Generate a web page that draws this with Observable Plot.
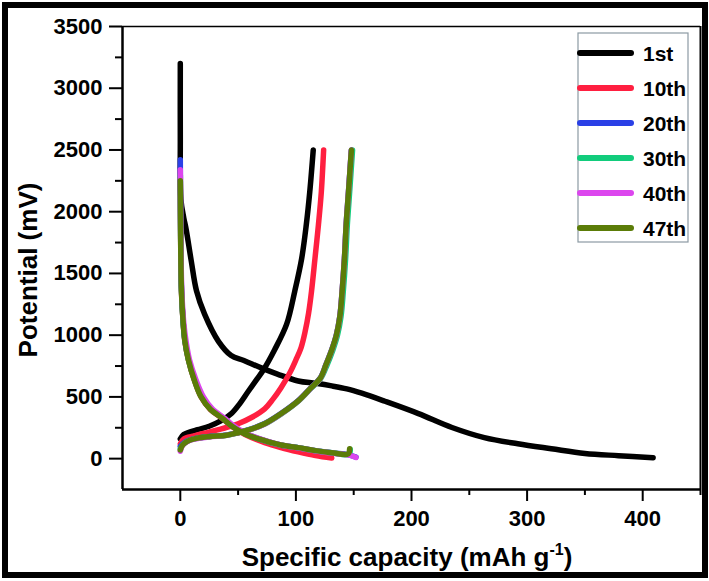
<!DOCTYPE html>
<html><head><meta charset="utf-8">
<script src="https://cdn.jsdelivr.net/npm/d3@7"></script>
<script src="https://cdn.jsdelivr.net/npm/@observablehq/plot@0.6"></script>
<style>
html,body{margin:0;padding:0;background:#fff;}
#wrap{position:relative;width:709px;height:581px;overflow:hidden;background:#fff;}
#border{position:absolute;left:2px;top:2px;right:1px;bottom:3px;border:6px solid #000;pointer-events:none;}
svg{font-family:"Liberation Sans",Arial,sans-serif;font-weight:bold;}
</style></head><body><div id="wrap"><div id="border"></div></div>
<script>
const cycles = ["1st", "10th", "20th", "30th", "40th", "47th"];
const colors = ["#000000", "#ff1f40", "#2a40e6", "#12cc7c", "#dc46ee", "#5b7c08"];

const xMajor = [0, 100, 200, 300, 400];
const xMinor = [50, 150, 250, 350, 450];
const yMajor = [0, 500, 1000, 1500, 2000, 2500, 3000, 3500];
const yMinor = [250, 750, 1250, 1750, 2250, 2750, 3250];

// 1st cycle
const d1Cap = [0, 0, 0.5, 3, 5, 9.5, 14, 21, 33, 44, 55, 70, 84, 102, 117, 131, 144, 157, 177, 206, 235, 263, 292, 321, 350, 379, 409];
const d1Pot = [3200, 2600, 2100, 1950, 1860, 1600, 1360, 1170, 950, 835, 795, 735, 685, 629, 610, 589, 565, 530, 465, 365, 252, 170, 120, 80, 42, 24, 8];
const c1Cap = [0, 3, 8, 15, 25, 35, 44, 51, 59, 66, 72, 81.5, 92, 99, 105, 109, 112, 115];
const c1Pot = [160, 195, 215, 235, 262, 305, 363, 440, 548, 640, 720, 880, 1089, 1355, 1621, 1895, 2161, 2500];
// 10th cycle
const d10Cap = [0, 0.3, 1, 2.5, 4, 7, 12, 18, 26, 36, 45, 56, 73, 87, 102, 117, 131];
const d10Pot = [2300, 1800, 1355, 1100, 950, 800, 640, 500, 398, 328, 258, 195, 130, 90, 55, 25, 5];
const c10Cap = [0, 3, 12, 25, 41, 50, 62, 73, 80, 87, 95, 100, 104.5, 108, 111, 113.5, 116.5, 119.5, 122, 124];
const c10Pot = [120, 160, 185, 215, 255, 282, 335, 403, 480, 573, 700, 800, 900, 1030, 1180, 1355, 1621, 1895, 2161, 2500];
// 20th cycle
const d20Cap = [0, 0.3, 1, 2.5, 4, 7, 12, 18, 26, 36, 45, 56, 73, 87, 102, 117, 132, 145, 152];
const d20Pot = [2420, 1850, 1380, 1110, 960, 810, 650, 510, 405, 335, 265, 205, 146, 110, 88, 64, 46, 32, 12];
const c20Cap = [0, 2, 6, 12, 25, 40, 50, 60, 73, 87, 102, 113, 121, 126, 131, 135, 138, 140, 142, 143.5, 145.5, 148];
const c20Pot = [100, 120, 145, 162, 180, 192, 212, 237, 284, 365, 470, 575, 652, 762, 882, 1002, 1152, 1355, 1621, 1895, 2161, 2500];
// 30th cycle
const d30Cap = [0, 0.3, 1, 2.5, 4, 7, 12, 18, 26, 36, 45, 56, 73, 87, 102, 117, 131, 146, 147];
const d30Pot = [2300, 1820, 1370, 1100, 955, 805, 645, 505, 402, 332, 262, 202, 144, 109, 88, 64, 47, 36, 75];
const c30Cap = [0, 2, 6, 12, 25, 40, 50, 60, 73, 87, 102, 113, 121.5, 127, 132, 136, 139, 141, 143, 144.5, 146.5, 149];
const c30Pot = [80, 112, 141, 160, 177, 190, 210, 234, 280, 360, 465, 570, 650, 760, 880, 1000, 1150, 1355, 1621, 1895, 2161, 2500];
// 40th cycle
const d40Cap = [0, 0.4, 1.3, 3, 5, 8, 13.5, 20, 28, 38, 47, 58, 75, 89, 104, 119, 134, 146, 152];
const d40Pot = [2340, 1830, 1360, 1100, 950, 800, 640, 500, 400, 330, 260, 200, 142, 106, 84, 60, 42, 28, 10];
const c40Cap = [0, 2, 6, 12, 25, 40, 50, 60, 73, 87, 102, 113, 121, 126, 131, 135, 138, 140, 142, 143.5, 145.5, 148];
const c40Pot = [60, 108, 138, 158, 176, 189, 209, 234, 281, 362, 467, 572, 648, 758, 878, 998, 1148, 1355, 1621, 1895, 2161, 2500];
// 47th cycle
const d47Cap = [0, 0.3, 1, 2.5, 4, 7, 12, 18, 26, 36, 45, 56, 73, 87, 102, 117, 131, 145, 146.5];
const d47Pot = [2250, 1800, 1355, 1100, 950, 800, 640, 500, 400, 330, 260, 200, 145, 110, 89, 65, 48, 38, 80];
const c47Cap = [0, 2, 6, 12, 25, 40, 50, 60, 73, 87, 102, 113, 121, 126, 131, 135, 138, 140, 142, 143.5, 145.5, 148];
const c47Pot = [70, 110, 140, 160, 178, 190, 210, 235, 282, 363, 468, 573, 650, 760, 880, 1000, 1150, 1355, 1621, 1895, 2161, 2500];

const series = [
  ["1st", "dis", d1Cap, d1Pot], ["1st", "chg", c1Cap, c1Pot],
  ["10th", "dis", d10Cap, d10Pot], ["10th", "chg", c10Cap, c10Pot],
  ["20th", "dis", d20Cap, d20Pot], ["20th", "chg", c20Cap, c20Pot],
  ["30th", "dis", d30Cap, d30Pot], ["30th", "chg", c30Cap, c30Pot],
  ["40th", "dis", d40Cap, d40Pot], ["40th", "chg", c40Cap, c40Pot],
  ["47th", "dis", d47Cap, d47Pot], ["47th", "chg", c47Cap, c47Pot]
];
const rows = series.flatMap(([cycle, branch, cap, pot]) =>
  cap.map((c, i) => ({cycle, key: cycle + "-" + branch, cap: c, pot: pot[i]})));

const font = '"Liberation Sans", Arial, sans-serif';
const plot = Plot.plot({
  width: 709, height: 581,
  marginLeft: 122, marginRight: 9, marginTop: 26, marginBottom: 92,
  x: {domain: [-50, 450]},
  y: {domain: [-250, 3500]},
  color: {domain: cycles, range: colors},
  style: {fontFamily: font, fontWeight: "bold", fontSize: "22px", color: "#000", background: "transparent"},
  marks: [
    Plot.line(rows, {x: "cap", y: "pot", z: "key", stroke: "cycle", strokeWidth: 5.5,
      curve: "catmull-rom", strokeLinecap: "round", strokeLinejoin: "round"}),
    Plot.axisY(yMajor, {tickSize: 13, tickPadding: 7, strokeWidth: 2, fontSize: 22, fontWeight: "bold", label: null, tickFormat: d => String(d)}),
    Plot.axisY(yMinor, {tickSize: 7, tickFormat: () => "", strokeWidth: 2, label: null}),
    Plot.axisX(xMajor, {tickSize: 12, tickPadding: 9, strokeWidth: 2, fontSize: 22, fontWeight: "bold", label: null, tickFormat: d => String(d)}),
    Plot.axisX(xMinor, {tickSize: 6, tickFormat: () => "", strokeWidth: 2, label: null}),
    Plot.ruleX([-50], {strokeWidth: 2.5}),
    Plot.ruleY([-250], {strokeWidth: 2.5}),
    Plot.ruleX([450], {strokeWidth: 2}),
    Plot.ruleY([3500], {strokeWidth: 1.5})
  ]
});
document.getElementById("wrap").appendChild(plot);

const svg = d3.select(plot);
// axis titles
svg.append("text")
  .attr("transform", "translate(37,270) rotate(-90)")
  .attr("text-anchor", "middle")
  .style("font-family", font).style("font-weight", "bold").style("font-size", "26px")
  .attr("fill", "#000")
  .text("Potential (mV)");
const xt = svg.append("text")
  .attr("x", 407).attr("y", 566)
  .attr("text-anchor", "middle")
  .style("font-family", font).style("font-weight", "bold").style("font-size", "26px")
  .attr("fill", "#000");
xt.append("tspan").text("Specific capacity (mAh g");
xt.append("tspan").attr("dy", -11).style("font-size", "16px").text("-1");
xt.append("tspan").attr("dy", 11).text(")");

// legend
const lg = svg.append("g");
lg.append("rect").attr("x", 578).attr("y", 33).attr("width", 110).attr("height", 209)
  .attr("fill", "#fff").attr("stroke", "#8c9aa3").attr("stroke-width", 1.2);
cycles.forEach((c, i) => {
  const y = 53 + i * 35;
  lg.append("line").attr("x1", 580).attr("x2", 631).attr("y1", y).attr("y2", y)
    .attr("stroke", colors[i]).attr("stroke-width", 6).attr("stroke-linecap", "round");
  lg.append("text").attr("x", 643).attr("y", y).attr("dy", "0.36em")
    .attr("text-anchor", "start")
    .style("text-anchor", "start")
    .style("font-family", font).style("font-weight", "bold").style("font-size", "21px")
    .attr("fill", "#000").text(c);
});
</script></body></html>
